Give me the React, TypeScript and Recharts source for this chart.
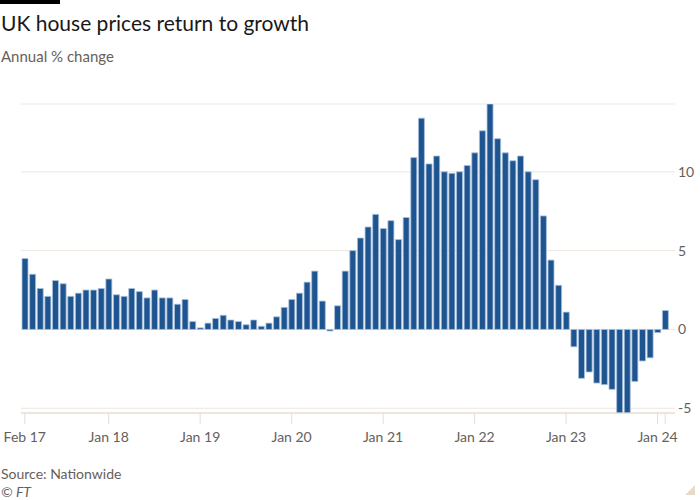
import { Bar, BarChart, CartesianGrid, XAxis, YAxis } from "recharts";

// Nationwide annual % change, Feb 2017 - Feb 2024
const months = [
  "Feb 17", "Mar 17", "Apr 17", "May 17", "Jun 17", "Jul 17", "Aug 17", "Sep 17", "Oct 17", "Nov 17", "Dec 17",
  "Jan 18", "Feb 18", "Mar 18", "Apr 18", "May 18", "Jun 18", "Jul 18", "Aug 18", "Sep 18", "Oct 18", "Nov 18", "Dec 18",
  "Jan 19", "Feb 19", "Mar 19", "Apr 19", "May 19", "Jun 19", "Jul 19", "Aug 19", "Sep 19", "Oct 19", "Nov 19", "Dec 19",
  "Jan 20", "Feb 20", "Mar 20", "Apr 20", "May 20", "Jun 20", "Jul 20", "Aug 20", "Sep 20", "Oct 20", "Nov 20", "Dec 20",
  "Jan 21", "Feb 21", "Mar 21", "Apr 21", "May 21", "Jun 21", "Jul 21", "Aug 21", "Sep 21", "Oct 21", "Nov 21", "Dec 21",
  "Jan 22", "Feb 22", "Mar 22", "Apr 22", "May 22", "Jun 22", "Jul 22", "Aug 22", "Sep 22", "Oct 22", "Nov 22", "Dec 22",
  "Jan 23", "Feb 23", "Mar 23", "Apr 23", "May 23", "Jun 23", "Jul 23", "Aug 23", "Sep 23", "Oct 23", "Nov 23", "Dec 23",
  "Jan 24", "Feb 24",
];

const change2017 = [4.5, 3.5, 2.6, 2.1, 3.1, 2.9, 2.1, 2.3, 2.5, 2.5, 2.6];
const change2018 = [3.2, 2.2, 2.1, 2.6, 2.4, 2.0, 2.5, 2.0, 2.0, 1.6, 1.9, 0.5];
const change2019 = [0.1, 0.4, 0.7, 0.9, 0.6, 0.5, 0.3, 0.6, 0.2, 0.4, 0.8, 1.4];
const change2020 = [1.9, 2.3, 3.0, 3.7, 1.8, -0.1, 1.5, 3.7, 5.0, 5.8, 6.5, 7.3];
const change2021 = [6.4, 6.9, 5.7, 7.1, 10.9, 13.4, 10.5, 11.0, 10.0, 9.9, 10.0, 10.4];
const change2022 = [11.2, 12.6, 14.3, 12.1, 11.2, 10.7, 11.0, 10.0, 9.5, 7.2, 4.4, 2.8];
const change2023 = [1.1, -1.1, -3.1, -2.7, -3.4, -3.5, -3.8, -5.3, -5.3, -3.3, -2.0, -1.8];
const change2024 = [-0.2, 1.2];

const xTicks = ["Feb 17", "Jan 18", "Jan 19", "Jan 20", "Jan 21", "Jan 22", "Jan 23", "Jan 24", "Feb 24"];
const yTicks = [-5, 0, 5, 10];

const values = [
  ...change2017, ...change2018, ...change2019, ...change2020,
  ...change2021, ...change2022, ...change2023, ...change2024,
];
const data = months.map((m, i) => ({ month: m, value: values[i] }));

const FONT = "Lato, 'Noto Sans', sans-serif";
const MUTED = "#66605c";

// recharts hands us the label anchor (axis + 8px); tick mark drawn from the axis line
function XTick({ x, y, payload }: any) {
  const last = payload.value === xTicks[xTicks.length - 1];
  return (
    <g>
      <line x1={x} x2={x} y1={y - 8} y2={y + 3} stroke="#e6ddd5" strokeWidth={1} />
      {!last && (
        <text x={x} y={y + 21} textAnchor="middle" fill={MUTED} fontSize={14} fontFamily={FONT}>
          {payload.value}
        </text>
      )}
    </g>
  );
}

function YTick({ y, payload }: any) {
  return (
    <text x={678} y={y + 5} textAnchor="start" fill={MUTED} fontSize={14} fontFamily={FONT}>
      {payload.value}
    </text>
  );
}

export default function App() {
  return (
    <div
      style={{
        position: "absolute",
        left: 0,
        top: 0,
        width: 700,
        height: 500,
        background: "#fff",
        fontFamily: FONT,
        overflow: "hidden",
      }}
    >
      <div style={{ position: "absolute", left: 0, top: 0, width: 60, height: 4, background: "#000" }} />
      <div style={{ position: "absolute", left: 1, top: 11, fontSize: 21, lineHeight: "24px", color: "#1a1817" }}>
        UK house prices return to growth
      </div>
      <div style={{ position: "absolute", left: 1, top: 47, fontSize: 15, lineHeight: "18px", color: MUTED }}>
        Annual % change
      </div>

      <div style={{ position: "absolute", left: 0, top: 80 }}>
        <BarChart
          width={700}
          height={380}
          data={data}
          margin={{ top: 24, right: 25, bottom: 17, left: 21 }}
          barSize={6}
        >
          <CartesianGrid vertical={false} stroke="#ede6e0" strokeWidth={1} />
          <XAxis
            dataKey="month"
            ticks={xTicks}
            interval={0}
            tick={<XTick />}
            tickLine={false}
            axisLine={{ stroke: "#e2d9d0" }}
            height={30}
            padding={{ left: 0, right: 6 }}
          />
          <YAxis
            orientation="right"
            domain={[-5.3, 14.3]}
            ticks={yTicks}
            allowDataOverflow
            tick={<YTick />}
            tickLine={false}
            axisLine={false}
            width={0.001}
          />
          <Bar dataKey="value" fill="#1e5591" stroke="#a9c0dc" strokeWidth={0.8} isAnimationActive={false} />
        </BarChart>
      </div>

      <div style={{ position: "absolute", left: 1, top: 465, fontSize: 14, lineHeight: "17px", color: MUTED }}>
        Source: Nationwide
      </div>
      <div style={{ position: "absolute", left: 1, top: 483, fontSize: 14, lineHeight: "17px", color: MUTED, fontStyle: "italic" }}>
        © FT
      </div>
      <svg style={{ position: "absolute", left: 684, top: 484 }} width={12} height={12}>
        <polygon points="11,1 11,11 1,11" fill="#e8d9c9" />
      </svg>
    </div>
  );
}
